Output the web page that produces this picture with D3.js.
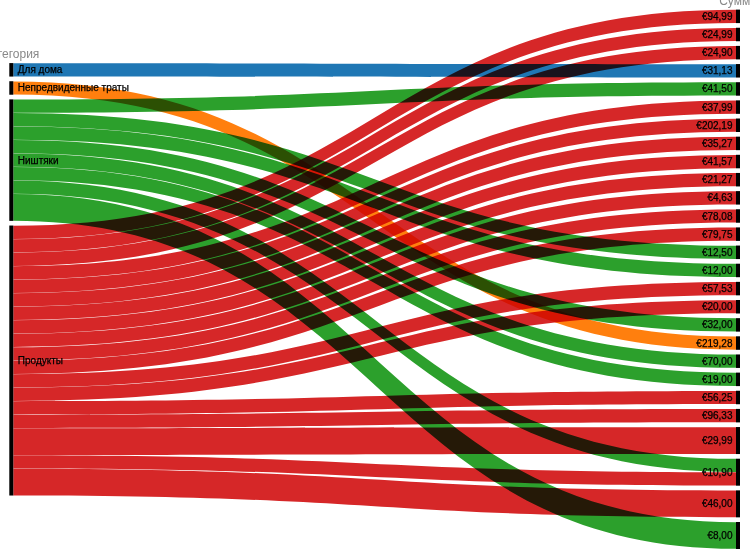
<!DOCTYPE html>
<head>
  <meta charset="UTF-8">
  <script src="https://d3js.org/d3.v7.min.js"></script>
  <style>
    body { margin: 0; background: #fff; }
    svg { font-family: "Liberation Sans", Arial, sans-serif; display: block; }
    .ribbon { mix-blend-mode: multiply; }
    .cat-label { font-size: 10px; fill: #000; stroke: #000; stroke-width: 0.25px; }
    .dim-label { font-size: 12px; fill: #888; }
  </style>
</head>
<body>
  <script>
    // category list (left), amount list (right), and the flows between them
    var categories = ["Для дома", "Непредвиденные траты", "Ништяки", "Продукты"];
    var categoryColors = ["#1f77b4", "#ff7f0e", "#2ca02c", "#d62728"];
    var amounts = ["€94,99", "€24,99", "€24,90", "€31,13", "€41,50", "€37,99", "€202,19",
      "€35,27", "€41,57", "€21,27", "€4,63", "€78,08", "€79,75", "€12,50", "€12,00",
      "€57,53", "€20,00", "€32,00", "€219,28", "€70,00", "€19,00", "€56,25", "€96,33",
      "€29,99", "€10,90", "€46,00", "€8,00"];

    var flowCategory = ["Продукты", "Продукты", "Продукты", "Для дома", "Ништяки", "Продукты",
      "Продукты", "Продукты", "Продукты", "Продукты", "Продукты", "Продукты", "Продукты",
      "Ништяки", "Ништяки", "Продукты", "Продукты", "Ништяки", "Непредвиденные траты",
      "Ништяки", "Ништяки", "Продукты", "Продукты", "Продукты", "Ништяки", "Продукты",
      "Продукты", "Ништяки"];
    var flowAmount = ["€94,99", "€24,99", "€24,90", "€31,13", "€41,50", "€37,99", "€202,19",
      "€35,27", "€41,57", "€21,27", "€4,63", "€78,08", "€79,75", "€12,50", "€12,00",
      "€57,53", "€20,00", "€32,00", "€219,28", "€70,00", "€19,00", "€56,25", "€96,33",
      "€29,99", "€10,90", "€10,90", "€46,00", "€8,00"];
    var flowCount = [1, 1, 1, 1, 1, 1, 1, 1, 1, 1, 1, 1, 1, 1, 1, 1, 1, 1, 1, 1, 1, 1, 1,
      2, 1, 1, 2, 2];

    var width = 750;
    var height = 559;
    var unit = 13.5, gap = 4.65, midY = 279.3;
    var leftX = 9.3, rightX = 736, barW = 4;

    var flows = flowCount.map(function(c, i) {
      return {
        cat: categories.indexOf(flowCategory[i]),
        amt: amounts.indexOf(flowAmount[i]),
        count: c
      };
    });
    var total = d3.sum(flowCount);

    var y = d3.scaleLinear().domain([0, total]).range([0, total * unit]);

    // stack the nodes of one column, centred on midY
    function layout(names, key) {
      var nodes = names.map(function(n, i) {
        return { name: n, count: d3.sum(flows.filter(function(f) { return f[key] === i; }), function(f) { return f.count; }) };
      });
      var span = y(total) + gap * (nodes.length - 1);
      var pos = midY - span / 2;
      nodes.forEach(function(n) {
        n.y0 = pos;
        n.y1 = pos + y(n.count);
        n.offset = n.y0;
        pos = n.y1 + gap;
      });
      return nodes;
    }
    var leftNodes = layout(categories, "cat");
    var rightNodes = layout(amounts, "amt");

    // offsets inside left nodes: ordered by amount; inside right nodes: ordered by category
    flows.slice().sort(function(a, b) { return a.cat - b.cat || a.amt - b.amt; })
      .forEach(function(f) {
        var n = leftNodes[f.cat];
        f.ly0 = n.offset; n.offset += y(f.count); f.ly1 = n.offset;
      });
    flows.slice().sort(function(a, b) { return a.amt - b.amt || a.cat - b.cat; })
      .forEach(function(f) {
        var n = rightNodes[f.amt];
        f.ry0 = n.offset; n.offset += y(f.count); f.ry1 = n.offset;
      });

    var svg = d3.select("body").append("svg")
      .attr("width", width)
      .attr("height", height);

    var x0 = leftX + barW, x1 = rightX, xm = (x0 + x1) / 2;
    var inset = 0.15;

    function ribbon(f) {
      var p = d3.path();
      var a = f.ly0 + inset, b = f.ry0 + inset, c = f.ry1 - inset, d = f.ly1 - inset;
      p.moveTo(x0, a);
      p.bezierCurveTo(xm, a, xm, b, x1, b);
      p.lineTo(x1, c);
      p.bezierCurveTo(xm, c, xm, d, x0, d);
      p.closePath();
      return p.toString();
    }

    svg.append("g").selectAll("path")
      .data(flows)
      .enter()
      .append("path")
      .attr("class", "ribbon")
      .attr("d", ribbon)
      .attr("fill", function(f) { return categoryColors[f.cat]; });

    // category bars
    svg.append("g").selectAll("rect")
      .data(leftNodes)
      .enter()
      .append("rect")
      .attr("x", leftX)
      .attr("y", function(n) { return n.y0; })
      .attr("width", barW)
      .attr("height", function(n) { return n.y1 - n.y0; })
      .attr("fill", "#000");

    svg.append("g").selectAll("rect")
      .data(rightNodes)
      .enter()
      .append("rect")
      .attr("x", rightX)
      .attr("y", function(n) { return n.y0; })
      .attr("width", barW)
      .attr("height", function(n) { return n.y1 - n.y0; })
      .attr("fill", "#000");

    // labels
    svg.append("g").selectAll("text")
      .data(leftNodes)
      .enter()
      .append("text")
      .attr("class", "cat-label")
      .attr("x", leftX + barW + 4.5)
      .attr("y", function(n) { return (n.y0 + n.y1) / 2; })
      .attr("dy", "0.35em")
      .text(function(n) { return n.name; });

    svg.append("g").selectAll("text")
      .data(rightNodes)
      .enter()
      .append("text")
      .attr("class", "cat-label")
      .attr("x", rightX - 3.5)
      .attr("y", function(n) { return (n.y0 + n.y1) / 2; })
      .attr("dy", "0.35em")
      .attr("text-anchor", "end")
      .text(function(n) { return n.name; });

    svg.append("text")
      .attr("class", "dim-label")
      .attr("x", leftX + barW / 2)
      .attr("y", leftNodes[0].y0 - 5)
      .attr("text-anchor", "middle")
      .text("Категория");

    svg.append("text")
      .attr("class", "dim-label")
      .attr("x", rightX + barW / 2)
      .attr("y", rightNodes[0].y0 - 5)
      .attr("text-anchor", "middle")
      .text("Сумма");
  </script>
</body>
</html>
